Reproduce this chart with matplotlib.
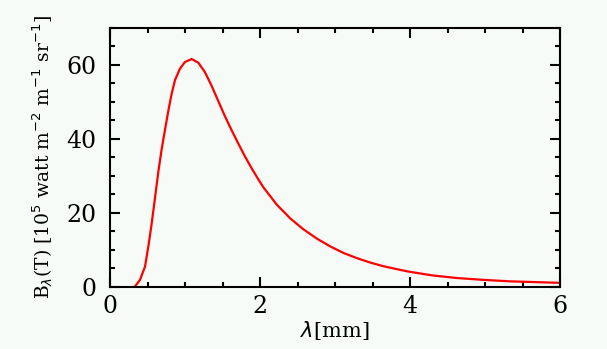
import numpy as np
import matplotlib.pyplot as plt
from matplotlib.ticker import MultipleLocator

# values
wavelength = [0.333, 0.40, 0.467, 0.511, 0.556, 0.60, 0.644, 0.689, 0.733, 0.778,
              0.822, 0.867, 0.933, 1.0, 1.089, 1.178, 1.267, 1.356, 1.444, 1.533,
              1.622, 1.711, 1.80, 1.889, 1.978, 2.044, 2.222, 2.40, 2.578, 2.756,
              2.933, 3.111, 3.289, 3.467, 3.644, 3.822, 3.99, 4.30, 4.62, 4.98,
              5.33, 5.65, 5.98]
brightness = [0.0, 1.8, 5.4, 10.8, 17.1, 24.0, 31.0, 37.2, 42.4, 47.6,
              52.2, 55.9, 59.0, 60.8, 61.6, 60.6, 58.0, 54.3, 50.2, 46.1,
              42.3, 38.7, 35.2, 32.0, 29.0, 26.9, 22.2, 18.5, 15.5, 13.0,
              10.9, 9.1, 7.7, 6.5, 5.5, 4.7, 4.0, 3.0, 2.3, 1.8,
              1.4, 1.2, 1.0]

bg = '#f6fbf8'
plt.rcParams['font.family'] = ['DejaVu Serif']

fig = plt.figure(figsize=(6.07, 3.49), dpi=100, facecolor=bg)
ax = fig.add_axes([110/607, 1-286.5/349, 450/607, 258.5/349], facecolor=bg)

ax.plot(wavelength, brightness, color='#ff0000', lw=1.6)

ax.set_xlim(0, 6)
ax.set_ylim(0, 70)
ax.xaxis.set_major_locator(MultipleLocator(2))
ax.xaxis.set_minor_locator(MultipleLocator(0.5))
ax.yaxis.set_major_locator(MultipleLocator(20))
ax.yaxis.set_minor_locator(MultipleLocator(5))
ax.tick_params(which='both', direction='in', top=True, right=True,
               width=1.5, labelsize=17, colors='black')
ax.tick_params(axis='x', which='major', length=7, pad=6)
ax.tick_params(axis='y', which='major', length=7, pad=10)
ax.tick_params(which='minor', length=3.5)
for s in ax.spines.values():
    s.set_linewidth(1.5)

ax.set_xlabel(r'$\lambda$[mm]', fontsize=15, labelpad=1)
ax.set_ylabel(r'B$_\lambda$(T) [10$^5$ watt m$^{-2}$ m$^{-1}$ sr$^{-1}$]',
              fontsize=13.5, labelpad=8)

fig.savefig('out.png', dpi=100, facecolor=bg)
